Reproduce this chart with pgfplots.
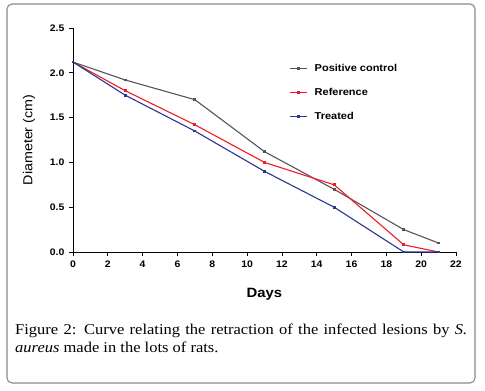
\documentclass[border=0pt]{standalone}
\usepackage{pgfplots}
\pgfplotsset{compat=1.18}
\usepackage{fontspec}
\setmainfont{Liberation Serif}[FakeStretch=1.1]
\newfontfamily\arial{Liberation Sans}[FakeStretch=1.1]
\definecolor{pcgrey}{HTML}{555555}
\definecolor{refred}{HTML}{EE1C25}
\definecolor{trblue}{HTML}{2B3590}
\definecolor{framegrey}{HTML}{8A8A8A}
\begin{document}
\begin{tikzpicture}
\path[use as bounding box] (-73pt,-139pt) rectangle (412pt,252pt);
\draw[framegrey, line width=1.1pt, rounded corners=5pt] (-66pt,248pt) rectangle (402pt,-131pt);
\begin{axis}[
  at={(0pt,0pt)}, anchor=origin,
  scale only axis, width=383pt, height=224pt,
  xmin=0, xmax=22, ymin=0, ymax=2.5,
  axis lines*=left,
  axis line style={line width=0.8pt, black},
  xtick={0,2,...,22},
  ytick={0,0.5,1,1.5,2,2.5},
  yticklabel style={/pgf/number format/fixed, /pgf/number format/fixed zerofill, /pgf/number format/precision=1, xshift=-1pt},
  tick align=outside,
  major tick length=4pt,
  tick style={line width=0.8pt, black},
  /pgf/number format/assume math mode=true,
  ticklabel style={font=\arial\bfseries\fontsize{9.5}{10}\selectfont},
  xticklabel style={yshift=-1pt},
  xlabel={Days},
  xlabel style={font=\arial\bfseries\fontsize{13.5}{16}\selectfont, at={(axis description cs:0.5,0)}, anchor=base, yshift=-45pt},
  ylabel={Diameter (cm)},
  ylabel style={font=\arial\fontsize{13}{15}\selectfont, at={(axis description cs:0,0.5)}, anchor=center, yshift=44pt},
  clip=false,
  legend style={at={(0.565,0.847)}, anchor=north west, draw=none, fill=none,
    font=\arial\bfseries\fontsize{10}{12}\selectfont, row sep=11pt,
    inner sep=0pt, /tikz/every odd column/.append style={column sep=5pt}},
  legend cell align=left,
  legend image code/.code={\draw[mark repeat=2,mark phase=2,#1] plot coordinates {(0pt,0pt)(8.5pt,0pt)(17pt,0pt)};},
]
\addplot[pcgrey, line width=1.1pt, mark=square*, mark size=0.9pt] coordinates {
(0,2.12) (3,1.92) (7,1.70) (11,1.12) (15,0.70) (19,0.25) (21,0.10)};
\addlegendentry{Positive control}
\addplot[refred, line width=1.1pt, mark=square*, mark size=0.9pt] coordinates {
(0,2.12) (3,1.80) (7,1.42) (11,1.00) (15,0.75) (19,0.08) (21,0.00)};
\addlegendentry{Reference}
\addplot[trblue, line width=1.1pt, mark=square*, mark size=0.9pt] coordinates {
(0,2.12) (3,1.75) (7,1.35) (11,0.90) (15,0.50) (19,0.00) (21,0.00)};
\addlegendentry{Treated}
\end{axis}
\node[anchor=north west, inner sep=0pt, text width=452pt, align=justify,
  font=\fontsize{15}{17.5}\selectfont] at (-58pt,-72pt)
  {Figure 2: Curve relating the retraction of the infected lesions by \textit{S.}\linebreak \textit{aureus} made in the lots of rats.};
\end{tikzpicture}
\end{document}
